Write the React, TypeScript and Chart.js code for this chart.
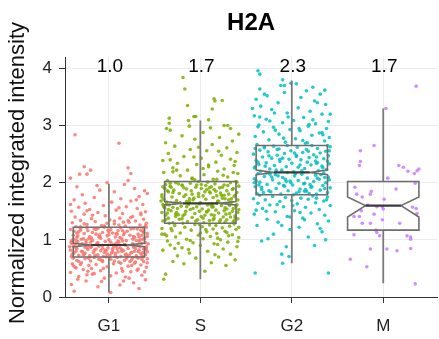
import React, { useEffect, useRef } from 'react';
import { Chart, registerables } from 'chart.js';
Chart.register(...registerables);

const chartTitle = 'H2A';
const yAxisTitle = 'Normalized integrated intensity';
const categories = ['G1', 'S', 'G2', 'M'];
const meanLabels = ['1.0', '1.7', '2.3', '1.7'];
const yTicks = [0, 1, 2, 3, 4];

const whiskerLow = [0.08, 0.31, 0.59, 0.24];
const q1 = [0.7, 1.29, 1.79, 1.17];
const notchLow = [0.88, 1.61, 2.14, 1.4];
const median = [0.91, 1.64, 2.18, 1.6];
const notchHigh = [0.94, 1.67, 2.22, 1.75];
const q3 = [1.22, 2.02, 2.65, 2.02];
const whiskerHigh = [1.98, 3.09, 3.79, 3.3];

// jittered observations: [horizontal jitter (category units), value]
const pointsG1: [number, number][] = [
  [-0.38,0.10],[0.02,0.08],[-0.12,0.18],[0.33,0.15],[-0.41,0.22],[0.27,0.25],[0.12,0.21],[-0.25,0.28],[0.40,0.30],[-0.05,0.33],
  [0.18,0.35],[-0.33,0.36],[0.36,0.38],[-0.18,0.40],[0.08,0.42],[-0.42,0.43],[0.24,0.44],[-0.09,0.46],[0.31,0.47],[-0.28,0.48],
  [0.14,0.50],[-0.36,0.51],[0.41,0.52],[-0.02,0.53],[0.21,0.54],[-0.22,0.55],[0.35,0.56],[-0.14,0.57],[0.05,0.58],[-0.40,0.58],
  [0.28,0.59],[-0.30,0.60],[0.11,0.61],[-0.07,0.62],[0.38,0.62],[-0.20,0.63],[0.17,0.64],[-0.35,0.64],[0.25,0.65],[-0.11,0.66],
  [0.02,0.66],[0.42,0.67],[-0.26,0.67],[0.32,0.68],[-0.39,0.68],[0.09,0.69],[-0.16,0.69],[0.20,0.70],[-0.03,0.70],[0.37,0.70],
  [-0.31,0.57],[0.15,0.45],[-0.24,0.39],[0.29,0.61],[-0.08,0.27],[0.22,0.33],[-0.37,0.52],[0.06,0.63],[0.39,0.44],[-0.19,0.50],
  [-0.41,0.71],[0.13,0.71],[-0.21,0.72],[0.30,0.72],[0.01,0.73],[-0.33,0.73],[0.40,0.74],[-0.12,0.74],[0.19,0.75],[-0.27,0.75],
  [0.07,0.76],[0.35,0.76],[-0.38,0.77],[0.24,0.77],[-0.05,0.78],[-0.17,0.78],[0.42,0.79],[0.10,0.79],[-0.30,0.80],[0.28,0.80],
  [-0.09,0.81],[0.16,0.81],[-0.42,0.82],[0.33,0.82],[-0.23,0.83],[0.04,0.83],[0.38,0.84],[-0.14,0.84],[0.21,0.85],[-0.35,0.85],
  [0.12,0.86],[-0.01,0.86],[0.27,0.87],[-0.26,0.87],[0.41,0.88],[-0.19,0.88],[0.08,0.89],[-0.39,0.89],[0.31,0.90],[-0.07,0.90],
  [0.18,0.91],[-0.32,0.91],[0.36,0.72],[-0.02,0.75],[0.25,0.78],[-0.36,0.80],[0.14,0.83],[-0.24,0.86],[0.39,0.86],[-0.11,0.89],
  [0.03,0.77],[-0.29,0.79],[0.22,0.73],[-0.16,0.82],[0.34,0.88],[-0.40,0.75],[0.09,0.84],[-0.06,0.71],[0.29,0.85],[-0.22,0.90],
  [0.05,0.92],[-0.37,0.93],[0.26,0.93],[-0.13,0.94],[0.40,0.95],[-0.25,0.95],[0.11,0.96],[-0.04,0.97],[0.33,0.97],[-0.41,0.98],
  [0.19,0.99],[-0.18,0.99],[0.00,1.00],[0.37,1.01],[-0.30,1.01],[0.14,1.02],[-0.09,1.03],[0.28,1.04],[-0.35,1.04],[0.07,1.05],
  [-0.21,1.06],[0.42,1.06],[-0.02,1.07],[0.23,1.08],[-0.39,1.08],[0.16,1.09],[-0.14,1.10],[0.32,1.10],[-0.27,1.11],[0.04,1.12],
  [0.38,1.13],[-0.07,1.13],[-0.33,1.14],[0.20,1.15],[0.10,1.16],[-0.23,1.16],[0.35,1.17],[-0.42,1.18],[0.02,1.18],[-0.16,1.19],
  [0.27,1.20],[-0.31,1.20],[0.13,1.21],[-0.05,1.22],[0.41,1.22],[-0.20,0.96],[0.30,0.99],[-0.11,1.05],[0.17,1.12],[-0.38,1.15],
  [0.08,0.94],[-0.28,1.02],[0.36,1.08],[-0.01,1.17],[0.24,1.19],[-0.34,0.97],[0.12,1.04],[-0.24,1.21],[0.39,1.03],[-0.10,1.09],
  [-0.36,1.23],[0.18,1.24],[-0.08,1.25],[0.34,1.26],[-0.24,1.27],[0.06,1.28],[0.41,1.29],[-0.40,1.30],[0.22,1.31],[-0.15,1.32],
  [0.29,1.33],[-0.31,1.34],[0.01,1.35],[0.38,1.36],[-0.19,1.37],[0.12,1.38],[-0.37,1.40],[0.26,1.41],[-0.04,1.42],[0.35,1.44],
  [-0.27,1.45],[0.15,1.46],[-0.12,1.48],[0.40,1.49],[-0.41,1.50],[0.08,1.52],[-0.21,1.53],[0.31,1.55],[-0.33,1.57],[0.19,1.58],
  [-0.06,1.60],[0.37,1.62],[-0.26,1.64],[0.03,1.66],[0.24,1.68],[-0.38,1.70],[0.13,1.72],[-0.16,1.74],[0.33,1.76],[-0.29,1.79],
  [0.42,1.81],[0.06,1.84],[-0.10,1.87],[0.28,1.90],[-0.35,1.93],[0.17,1.97],[-0.02,2.00],[0.21,2.04],[-0.42,2.08],[0.39,1.86],
  [-0.37,2.84],[0.11,2.69],[-0.27,2.28],[-0.32,2.15],[-0.24,2.15],[-0.20,2.22],[0.21,2.26],[0.24,2.16],[-0.13,1.95],[0.30,1.70],
  [-0.43,0.88],[0.43,0.93],[-0.03,0.81],[0.15,0.98],[-0.34,1.07],[0.26,0.69],[-0.18,1.13],[0.05,0.87],[0.37,1.15],[-0.26,0.77],
  [0.11,1.26],[-0.09,0.65],[0.32,0.79],[-0.39,1.01],[0.20,0.90],[-0.14,1.18],[0.02,0.96],[0.40,0.83],[-0.29,0.93],[0.09,1.10],
  [-0.22,0.68],[0.34,1.00],[-0.05,1.24],[0.18,0.74],[-0.36,0.86],[0.27,1.06],[-0.12,0.95],[0.07,0.72],[0.42,1.11],[-0.31,1.23],
  [0.14,0.80],[-0.19,1.03],[0.23,0.62],[-0.41,0.96],[0.31,1.19],[-0.07,0.85],[0.00,1.14],[0.36,0.66],[-0.25,0.99],[0.16,1.31],
  [-0.33,0.62],[0.19,0.67],[-0.15,0.73],[0.37,0.78],[-0.04,0.82],[0.27,0.91],[-0.41,0.94],[0.10,0.98],[-0.22,1.02],[0.33,1.05],
  [0.00,1.09],[-0.35,1.12],[0.15,1.16],[-0.12,1.20],[0.40,1.25],[-0.27,1.28],[0.06,1.33],[0.24,1.39],[-0.18,1.43],[0.35,1.47],
  [-0.39,0.55],[0.13,0.59],[-0.07,0.64],[0.30,0.70],[-0.28,0.74],[0.04,0.79],[0.41,0.84],[-0.20,0.87],[0.17,0.92],[-0.36,0.99],
  [0.26,1.01],[-0.10,1.06],[0.08,1.11],[-0.31,1.17],[0.38,1.21],[-0.02,1.29],[0.21,1.34],[-0.24,1.51],[0.11,1.56],[-0.42,1.62],
  [0.32,0.49],[-0.16,0.41],[0.02,0.37],[-0.34,0.31],[0.25,0.55],[0.42,0.60],[-0.06,0.50],[0.16,0.28],[-0.23,0.45],[0.36,0.94],
];

const pointsS: [number, number][] = [
  [-0.40,0.31],[-0.38,0.40],[0.05,0.45],[0.28,0.55],[-0.18,0.58],[0.12,0.60],[-0.30,0.62],[0.38,0.65],[-0.05,0.68],[0.20,0.70],
  [-0.25,0.72],[0.33,0.75],[-0.12,0.77],[0.08,0.80],[-0.41,0.82],[0.25,0.84],[-0.20,0.86],[0.40,0.88],[0.00,0.90],[-0.33,0.91],
  [0.15,0.93],[-0.08,0.95],[0.30,0.96],[-0.36,0.98],[0.22,1.00],[-0.15,1.01],[0.03,1.02],[0.42,1.04],[-0.27,1.05],[0.11,1.06],
  [-0.02,1.08],[0.35,1.09],[-0.39,1.10],[0.18,1.11],[-0.22,1.12],[0.07,1.14],[0.27,1.15],[-0.31,1.16],[-0.10,1.17],[0.39,1.18],
  [0.14,1.19],[-0.42,1.20],[0.24,1.21],[-0.17,1.22],[0.02,1.23],[0.32,1.24],[-0.28,1.25],[0.10,1.26],[-0.06,1.27],[0.37,1.28],
  [-0.34,1.29],[0.19,1.03],[-0.24,0.94],[0.29,1.13],[-0.13,0.83],[0.06,1.18],[-0.37,1.07],[0.41,0.97],[-0.01,1.27],[0.16,0.74],
  [0.04,1.30],[-0.30,1.30],[0.36,1.31],[-0.14,1.32],[0.21,1.32],[-0.41,1.33],[0.10,1.34],[-0.03,1.35],[0.29,1.35],[-0.23,1.36],
  [0.41,1.37],[0.15,1.38],[-0.35,1.38],[-0.09,1.39],[0.25,1.40],[0.01,1.41],[-0.19,1.42],[0.38,1.42],[-0.38,1.43],[0.12,1.44],
  [-0.27,1.45],[0.32,1.46],[-0.06,1.46],[0.20,1.47],[-0.42,1.48],[0.07,1.49],[-0.16,1.50],[0.35,1.50],[-0.32,1.51],[0.17,1.52],
  [0.42,1.53],[-0.11,1.53],[0.02,1.54],[-0.25,1.55],[0.27,1.56],[-0.39,1.56],[0.13,1.57],[-0.04,1.58],[0.39,1.59],[-0.21,1.59],
  [0.23,1.60],[-0.34,1.61],[0.08,1.61],[-0.13,1.62],[0.31,1.63],[-0.01,1.63],[0.18,1.64],[-0.28,1.64],[0.37,1.34],[-0.20,1.37],
  [0.05,1.43],[-0.36,1.47],[0.26,1.51],[-0.08,1.55],[0.14,1.58],[-0.41,1.62],[0.33,1.40],[-0.17,1.45],[0.09,1.52],[-0.30,1.57],
  [0.00,1.65],[-0.37,1.66],[0.34,1.66],[-0.12,1.67],[0.19,1.68],[-0.26,1.69],[0.41,1.70],[0.06,1.71],[-0.40,1.71],[0.27,1.72],
  [-0.07,1.73],[0.14,1.74],[-0.31,1.75],[0.37,1.76],[-0.18,1.76],[0.03,1.77],[0.23,1.78],[-0.42,1.79],[0.31,1.80],[-0.02,1.81],
  [-0.23,1.81],[0.11,1.82],[0.40,1.83],[-0.35,1.84],[0.17,1.85],[-0.10,1.86],[0.29,1.86],[-0.29,1.87],[0.07,1.88],[-0.15,1.89],
  [0.36,1.90],[-0.39,1.90],[0.21,1.91],[-0.05,1.92],[0.12,1.93],[-0.33,1.94],[0.42,1.94],[-0.20,1.95],[0.26,1.96],[0.01,1.97],
  [-0.38,1.97],[0.16,1.98],[-0.11,1.99],[0.33,2.00],[-0.27,2.00],[0.08,2.01],[-0.02,2.02],[0.39,2.02],[-0.43,1.68],[0.24,1.73],
  [-0.16,1.79],[0.05,1.84],[-0.32,1.92],[0.30,1.95],[-0.08,1.70],[0.15,1.88],[-0.24,1.98],[0.38,1.78],[-0.04,1.96],[0.20,1.67],
  [-0.36,2.04],[0.14,2.06],[-0.09,2.08],[0.30,2.10],[-0.22,2.12],[0.04,2.14],[0.41,2.16],[-0.40,2.18],[0.19,2.20],[-0.14,2.22],
  [0.26,2.24],[-0.30,2.26],[0.09,2.28],[0.37,2.30],[-0.04,2.32],[-0.25,2.34],[0.17,2.36],[-0.41,2.39],[0.33,2.41],[0.01,2.43],
  [-0.18,2.46],[0.23,2.48],[-0.35,2.51],[0.40,2.53],[0.07,2.56],[-0.11,2.58],[0.29,2.61],[-0.28,2.64],[0.13,2.67],[-0.38,2.70],
  [0.35,2.73],[-0.06,2.76],[0.21,2.79],[-0.20,2.82],[0.42,2.85],[0.03,2.88],[-0.33,2.92],[0.33,2.95],[-0.37,2.95],[0.11,2.96],
  [-0.12,2.99],[0.26,3.00],[0.30,3.00],[-0.13,3.09],[0.09,3.10],[-0.07,3.16],[-0.05,3.16],[-0.34,3.04],[-0.34,3.13],[0.13,3.29],
  [0.15,3.47],[0.16,3.43],[0.24,3.44],[-0.14,3.35],[-0.17,3.64],[-0.19,3.84],[-0.26,2.22],[0.38,2.37],[-0.02,2.62],[0.18,2.06],
  [-0.35,1.53],[0.22,1.35],[-0.09,1.80],[0.40,1.62],[-0.19,1.29],[0.06,1.95],[0.28,1.45],[-0.42,1.75],[0.12,1.60],[-0.27,1.41],
  [0.35,1.88],[-0.01,1.50],[0.18,1.77],[-0.33,1.99],[0.03,1.38],[0.31,1.70],[-0.15,1.58],[0.24,1.92],[-0.38,1.35],[0.10,1.84],
  [-0.22,1.65],[0.41,1.48],[-0.06,2.05],[0.15,1.43],[-0.30,1.83],[0.36,1.55],[-0.12,1.72],[0.01,1.90],[0.27,1.31],[-0.40,1.60],
  [-0.32,1.20],[0.17,1.25],[-0.05,1.33],[0.38,1.39],[-0.24,1.44],[0.07,1.49],[0.29,1.54],[-0.40,1.58],[0.13,1.63],[-0.15,1.67],
  [0.34,1.72],[-0.02,1.76],[0.22,1.82],[-0.36,1.86],[0.10,1.91],[-0.20,1.96],[0.40,2.01],[-0.09,2.07],[0.25,2.13],[-0.30,2.19],
  [0.03,2.25],[-0.42,1.10],[0.31,1.07],[-0.11,0.99],[0.19,0.92],[-0.28,0.85],[0.42,1.22],[0.00,1.12],[-0.37,1.62],[0.26,1.78],
  [-0.18,1.91],[0.09,2.31],[-0.33,2.40],[0.36,2.18],[-0.07,2.45],[0.20,2.55],[-0.26,1.48],[0.14,1.35],[-0.41,1.93],[0.32,1.60],
];

const pointsG2: [number, number][] = [
  [-0.40,0.42],[0.40,0.42],[-0.11,0.75],[0.25,0.90],[-0.33,0.98],[0.18,1.05],[-0.20,1.10],[0.33,1.14],[-0.02,1.18],[0.08,1.22],
  [-0.38,1.25],[0.28,1.28],[-0.15,1.31],[0.40,1.33],[-0.27,1.36],[0.12,1.38],[-0.05,1.41],[0.36,1.43],[-0.41,1.45],[0.21,1.47],
  [-0.18,1.49],[0.03,1.51],[0.30,1.53],[-0.32,1.55],[0.15,1.57],[-0.09,1.58],[0.42,1.60],[-0.24,1.61],[0.06,1.63],[-0.37,1.64],
  [0.26,1.65],[-0.13,1.67],[0.35,1.68],[0.00,1.69],[-0.29,1.70],[0.18,1.71],[-0.42,1.72],[0.10,1.73],[-0.07,1.74],[0.39,1.75],
  [-0.21,1.76],[0.23,1.77],[-0.35,1.78],[0.02,1.79],[0.31,1.20],[-0.26,1.02],[0.14,1.35],[-0.39,1.52],[0.37,1.00],[-0.06,0.88],
  [-0.10,0.59],[-0.03,0.71],[0.09,1.48],[-0.16,1.62],[0.27,1.73],
  [-0.12,1.80],[0.27,1.80],[-0.38,1.81],[0.05,1.82],[0.39,1.83],[-0.23,1.84],[0.16,1.85],[-0.04,1.86],[0.31,1.87],[-0.33,1.88],
  [0.09,1.89],[-0.17,1.90],[0.42,1.91],[0.21,1.92],[-0.40,1.93],[-0.08,1.94],[0.34,1.95],[0.01,1.96],[-0.27,1.97],[0.13,1.98],
  [-0.14,1.99],[0.37,2.00],[-0.35,2.01],[0.24,2.02],[-0.02,2.03],[0.07,2.04],[-0.21,2.05],[0.30,2.06],[-0.41,2.07],[0.17,2.08],
  [-0.10,2.09],[0.40,2.10],[-0.30,2.11],[0.03,2.12],[0.26,2.13],[-0.18,2.14],[0.11,2.15],[-0.37,2.16],[0.35,2.17],[-0.05,2.18],
  [0.19,1.81],[-0.25,1.86],[0.36,1.90],[-0.09,1.95],[0.14,1.99],[-0.39,2.03],[0.28,2.08],[-0.15,2.12],[0.04,2.16],[-0.31,1.83],
  [0.22,1.93],[-0.01,2.00],[0.41,2.05],[-0.22,2.10],[0.08,1.84],[-0.36,1.96],[0.32,2.14],[-0.07,2.06],[0.15,1.88],[-0.28,2.17],
  [0.02,2.19],[-0.34,2.20],[0.29,2.21],[-0.11,2.22],[0.38,2.23],[-0.24,2.24],[0.14,2.25],[-0.41,2.26],[0.07,2.27],[-0.06,2.28],
  [0.33,2.29],[-0.19,2.30],[0.21,2.31],[-0.36,2.32],[0.41,2.33],[0.00,2.34],[-0.28,2.35],[0.17,2.36],[-0.13,2.37],[0.26,2.38],
  [-0.39,2.39],[0.10,2.40],[-0.03,2.41],[0.35,2.42],[-0.22,2.43],[0.19,2.44],[-0.32,2.45],[0.05,2.46],[0.40,2.47],[-0.16,2.48],
  [0.24,2.49],[-0.42,2.50],[-0.08,2.51],[0.31,2.52],[0.12,2.53],[-0.26,2.54],[0.37,2.55],[-0.01,2.56],[-0.35,2.57],[0.16,2.58],
  [-0.14,2.59],[0.28,2.60],[-0.30,2.61],[0.06,2.62],[0.42,2.63],[-0.20,2.64],[0.22,2.65],[-0.05,2.65],[0.34,2.26],[-0.37,2.36],
  [0.09,2.31],[-0.25,2.47],[0.18,2.55],[-0.10,2.43],[0.39,2.38],[-0.40,2.60],[0.27,2.34],[-0.17,2.22],[0.03,2.52],[-0.29,2.29],
  [-0.38,2.67],[0.15,2.69],[-0.07,2.71],[0.36,2.73],[-0.25,2.75],[0.04,2.77],[0.41,2.79],[-0.40,2.81],[0.22,2.83],[-0.14,2.85],
  [0.30,2.87],[-0.31,2.89],[0.09,2.91],[-0.02,2.93],[0.38,2.95],[-0.20,2.97],[0.18,2.99],[-0.36,3.01],[0.26,3.03],[-0.10,3.05],
  [0.40,3.07],[0.02,3.09],[-0.28,3.11],[0.13,3.14],[-0.41,3.17],[0.33,3.20],[-0.05,3.22],[0.20,3.25],[-0.22,3.28],[0.07,3.31],
  [-0.34,3.34],[0.37,3.37],[-0.15,3.40],[0.25,3.43],[-0.39,3.46],[0.10,3.49],[-0.27,3.52],[0.31,3.55],[-0.08,3.58],[0.16,3.61],
  [-0.35,3.64],[0.23,3.67],[-0.12,3.70],[0.05,3.73],[-0.30,3.55],[-0.37,3.96],[-0.35,3.90],[-0.10,3.80],[-0.08,3.70],[-0.01,3.74],
  [0.28,3.40],[0.36,3.62],[0.42,3.20],[-0.43,3.30],[0.12,2.74],[-0.18,2.92],[0.34,2.84],[-0.04,3.15],[0.19,3.02],[-0.24,3.08],
  [-0.33,1.92],[0.20,1.97],[-0.06,2.02],[0.36,2.09],[-0.24,2.15],[0.11,2.21],[-0.40,2.28],[0.28,2.35],[-0.13,2.41],[0.05,2.48],
  [0.41,2.56],[-0.30,2.63],[0.17,2.70],[-0.09,2.78],[0.33,2.88],[-0.37,2.98],[0.23,3.10],[-0.19,3.22],[0.01,1.60],[-0.28,1.50],
  [0.38,1.70],[-0.02,1.40],[0.14,1.85],[-0.41,2.00],[0.27,2.45],[-0.16,2.58],[0.08,2.95],[-0.35,3.15],[0.39,2.65],[-0.11,1.25],
];

const pointsM: [number, number][] = [
  [0.36,3.69],[0.03,3.30],[-0.10,2.65],[-0.25,2.56],[-0.25,2.37],[-0.26,2.30],[0.17,2.30],[0.22,2.27],[0.27,2.20],[0.34,2.16],
  [0.37,2.21],[0.39,2.24],[0.05,2.08],[0.35,1.99],[-0.31,1.92],[0.14,1.89],[-0.13,1.85],[-0.29,1.80],[-0.14,1.80],[-0.23,1.75],
  [0.01,1.71],[-0.17,1.61],[-0.07,1.58],[-0.01,1.58],[0.32,1.57],[0.36,1.55],[0.00,1.54],[0.37,1.46],[-0.24,1.51],[-0.10,1.45],
  [-0.26,1.41],[-0.32,1.41],[-0.01,1.35],[-0.23,1.29],[-0.14,1.29],[0.18,1.29],[-0.08,1.17],[-0.07,1.13],[-0.04,1.07],[-0.32,1.09],
  [0.26,1.07],[0.30,1.05],[0.30,1.01],[-0.14,0.84],[0.04,0.84],[0.15,0.81],[0.30,0.85],[-0.36,0.66],[-0.18,0.53],[0.35,0.23],
];

const pointColors = ['rgba(248,118,109,0.85)', 'rgba(124,174,0,0.85)', 'rgba(0,191,196,0.85)', 'rgba(199,124,255,0.85)'];
const FONT = '"Liberation Sans", Arial, Helvetica, sans-serif';

export default function App() {
  const ref = useRef<HTMLCanvasElement>(null);
  useEffect(() => {
    if (!ref.current) return;
    const groups = [pointsG1, pointsS, pointsG2, pointsM];
    const datasets = groups.map((pts, i) => ({
      type: 'scatter' as const,
      label: categories[i],
      data: pts.map(([dx, y]) => ({ x: i + 1 + dx, y })),
      pointRadius: 1.8,
      pointHoverRadius: 1.8,
      pointBackgroundColor: pointColors[i],
      pointBorderWidth: 0,
      showLine: false,
    }));

    const boxHalf = 0.39;
    const notchRatio = 0.5;

    const boxPlugin = {
      id: 'boxes',
      afterDatasetsDraw(chart: any) {
        const ctx = chart.ctx;
        const xs = chart.scales.x;
        const ys = chart.scales.y;
        ctx.save();
        categories.forEach((_, i) => {
          const c = i + 1;
          const cx = xs.getPixelForValue(c);
          const xl = xs.getPixelForValue(c - boxHalf);
          const xr = xs.getPixelForValue(c + boxHalf);
          const nl = xs.getPixelForValue(c - boxHalf * notchRatio);
          const nr = xs.getPixelForValue(c + boxHalf * notchRatio);
          const yq1 = ys.getPixelForValue(q1[i]);
          const yq3 = ys.getPixelForValue(q3[i]);
          const ynl = ys.getPixelForValue(notchLow[i]);
          const ynh = ys.getPixelForValue(notchHigh[i]);
          const ymed = ys.getPixelForValue(median[i]);
          const ywl = ys.getPixelForValue(whiskerLow[i]);
          const ywh = ys.getPixelForValue(whiskerHigh[i]);
          ctx.strokeStyle = '#7a7a7a';
          ctx.lineWidth = 1.8;
          ctx.beginPath();
          ctx.moveTo(cx, yq3);
          ctx.lineTo(cx, ywh);
          ctx.moveTo(cx, yq1);
          ctx.lineTo(cx, ywl);
          ctx.stroke();
          ctx.strokeStyle = '#6e6e6e';
          ctx.lineWidth = 1.6;
          ctx.beginPath();
          ctx.moveTo(xl, yq3);
          ctx.lineTo(xr, yq3);
          ctx.lineTo(xr, ynh);
          ctx.lineTo(nr, ymed);
          ctx.lineTo(xr, ynl);
          ctx.lineTo(xr, yq1);
          ctx.lineTo(xl, yq1);
          ctx.lineTo(xl, ynl);
          ctx.lineTo(nl, ymed);
          ctx.lineTo(xl, ynh);
          ctx.closePath();
          ctx.stroke();
          ctx.strokeStyle = '#3a3a3a';
          ctx.lineWidth = 2.2;
          ctx.beginPath();
          ctx.moveTo(nl, ymed);
          ctx.lineTo(nr, ymed);
          ctx.stroke();
          ctx.fillStyle = '#000';
          ctx.font = `19px ${FONT}`;
          ctx.textAlign = 'center';
          ctx.textBaseline = 'middle';
          ctx.fillText(meanLabels[i], cx + 1, ys.getPixelForValue(4.03));
        });
        ctx.restore();
      },
      afterDraw(chart: any) {
        const ctx = chart.ctx;
        const area = chart.chartArea;
        ctx.save();
        ctx.fillStyle = '#000';
        ctx.font = `bold 24px ${FONT}`;
        ctx.textAlign = 'center';
        ctx.textBaseline = 'middle';
        ctx.fillText(chartTitle, (area.left + area.right) / 2, 23);
        ctx.translate(18, 173);
        ctx.rotate(-Math.PI / 2);
        ctx.font = `22px ${FONT}`;
        ctx.fillStyle = '#111';
        ctx.fillText(yAxisTitle, 0, 0);
        ctx.restore();
      },
    };

    const chart = new Chart(ref.current, {
      type: 'scatter',
      data: { datasets },
      options: {
        animation: false,
        responsive: false,
        events: [],
        layout: { padding: { top: 57, right: 0, left: 0, bottom: 0 } },
        plugins: { legend: { display: false }, tooltip: { enabled: false }, title: { display: false } },
        scales: {
          x: {
            type: 'linear',
            min: 0.52,
            max: 4.59,
            afterBuildTicks: (scale: any) => {
              scale.ticks = categories.map((_, i) => ({ value: i + 1 }));
            },
            afterFit: (scale: any) => {
              scale.height = 42;
            },
            ticks: {
              callback: (_v: any, idx: number) => categories[idx],
              color: '#222',
              font: { family: FONT, size: 17 },
              padding: 13,
              maxRotation: 0,
              autoSkip: false,
            },
            grid: { color: '#ebebeb', lineWidth: 1, tickColor: '#333', tickLength: 6 },
            border: { display: true, color: '#333', width: 1 },
          },
          y: {
            type: 'linear',
            min: 0,
            max: 4.2,
            afterBuildTicks: (scale: any) => {
              scale.ticks = yTicks.map((v) => ({ value: v }));
            },
            afterFit: (scale: any) => {
              scale.width = 65;
            },
            ticks: {
              color: '#222',
              font: { family: FONT, size: 17 },
              padding: 7,
              includeBounds: false,
            },
            grid: { color: '#ebebeb', lineWidth: 1, tickColor: '#333', tickLength: 6 },
            border: { display: true, color: '#333', width: 1 },
          },
        },
      },
      plugins: [boxPlugin],
    } as any);
    return () => chart.destroy();
  }, []);

  return (
    <div style={{ position: 'fixed', left: 0, top: 0, width: 439, height: 339, background: '#fff' }}>
      <canvas ref={ref} width={439} height={339} style={{ display: 'block' }} />
    </div>
  );
}
